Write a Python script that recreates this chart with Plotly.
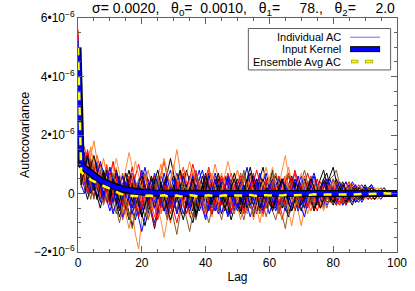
import plotly.graph_objects as go

SCALE = 1e-7  # values below are in units of 1e-7

kernel = [50, 9.8, 8.7, 7.7, 6.8, 6.0, 5.2, 4.5, 3.9, 3.4,
          2.9, 2.5, 2.1, 1.8, 1.5, 1.2, 1.0, 0.8, 0.6, 0.5,
          0.4, 0.3, 0.25, 0.2, 0.15, 0.1, 0.08, 0.06, 0.04, 0.03,
          0.02, 0.01, 0.01, 0, 0, 0, 0, 0, 0, 0] + [0.0] * 61

ensemble = [50, 7.4, 6.3, 5.4, 4.7, 4.1, 3.6, 3.2, 2.8, 2.3,
            1.8, 1.2, 0.6, 0.0, -0.4, -0.6, -0.7, -0.8, -0.9, -0.8,
            -1.0, -0.9, -0.7, -0.8, -1.1, -0.9, -0.8, -0.6, -0.9, -1.0,
            -0.8, -0.7, -0.9, -1.0, -0.8, -0.6, -0.7, -0.9, -1.0, -0.8,
            -0.7, -0.6, -0.8, -1.0, -0.9, -0.7, -0.6, -0.8, -0.9, -0.7,
            -0.6, -0.7, -0.8, -0.6, -0.5, -0.7, -0.8, -0.6, -0.5, -0.6,
            -0.7, -0.5, -0.4, -0.6, -0.7, -0.5, -0.4, -0.5, -0.6, -0.5,
            -0.4, -0.5, -0.6, -0.4, -0.3, -0.4, -0.5, -0.4, -0.3, -0.4,
            -0.5, -0.4, -0.3, -0.2, -0.3, -0.4, -0.3, -0.2, -0.3, -0.2,
            -0.1, -0.2, -0.1, 0.0, -0.1, 0.0, 0.1, 0.0, 0.0, 0.0, 0.0]

individual = [
    ("#ff0000", [52, 12, 9, 14, 10, 6, 8, 3, 5, 9, 4, -2, 1, 5, -3, -6, -1, 3, -2, -8, -4, 2, 5, 1, -3, 2, 6, 3, -2, -5, -1, 4, 7, 2, -3, -6, -2, 1, 5, 3, -1, -4, 0, 6, 4, -2, -5, -3, 2, 5, 1, -3, -7, -2, 3, 6, 2, -2, 1, 4, -1, -5, -3, 2, 4, 0, -4, -2, 3, 5, 1, -2, -4, 0, 3, 2, -3, -5, -1, 2, 4, 1, -2, -3, 1, 3, 0, -2, -1, 2, 1, -1, -2, 0, 1, 1, -1, -1, 0, 1, 0]),
    ("#0000ff", [49, 6, 3, 8, 2, -1, 4, 7, 1, -3, 2, 6, 0, -5, -2, 3, -1, -6, -9, -4, 1, -3, -7, -2, 4, 1, -4, -1, 5, 8, 3, -2, 1, 6, 2, -4, -8, -3, 2, -1, -5, -2, 4, 7, 3, -1, 2, 5, 0, -6, -3, 1, -2, -6, -4, 2, 5, 1, -3, 0, 4, 2, -3, -6, -1, 3, 6, 2, -2, -4, 0, 3, -1, -4, -2, 2, 4, 1, -3, -2, 2, 4, 1, -2, -4, -1, 2, 1, -2, 0, 2, 1, -1, -2, 0, 1, 0, -1, 0, 0, 0]),
    ("#000000", [50, 9, 12, 6, 11, 7, 2, 5, 0, 4, 7, 2, -4, -1, 3, -2, -7, -11, -6, -2, 3, 0, -4, 1, 5, 2, -3, -6, -1, 4, 6, 1, -3, 2, -2, -7, -10, -5, 0, 3, 7, 3, -2, 1, 5, 2, -4, -7, -2, 3, 0, -4, -1, 4, 7, 3, -2, -6, -3, 1, 5, 2, -3, -1, 4, 6, 1, -4, -2, 2, -1, -5, -2, 3, 1, -2, 2, 5, 7, 2, -2, -4, 0, 3, 1, -3, -1, 2, 0, -2, 1, 2, 0, -2, -1, 1, 0, -1, 1, 0, 0]),
    ("#ff7f27", [55, 14, 8, 11, 16, 9, 4, 7, 12, 6, 1, 5, 9, 3, -2, -8, -12, -6, -14, -19, -9, -3, 2, -4, 1, 6, 10, 4, -1, 3, 9, 15, 8, 2, -3, 1, 5, 0, -6, -3, 2, -4, -8, -2, 3, 7, 2, -4, 0, 5, 8, 3, -3, -7, -2, 4, 1, -5, -8, -3, 2, 6, 1, -4, 0, 5, 9, 4, -1, -6, -11, -5, 1, 6, 3, -2, 2, 4, -1, -3, 1, 3, -2, -4, 0, 2, -1, -3, 1, 2, 0, -2, -1, 1, 2, 0, -1, 0, 1, 0, 0]),
    ("#8b5a2b", [48, 4, 7, 2, -2, 5, 9, 3, -1, 4, 0, -6, -3, 2, 7, 1, -4, -1, 4, 2, -3, -8, -4, 1, -2, -6, -1, 5, 2, -4, -9, -14, -7, -2, 3, 0, -5, -9, -3, 1, 4, 0, -3, 2, 6, 3, -2, -6, -1, 3, -1, -5, -9, -4, 1, 5, 2, -3, -6, -2, 3, 7, 2, -3, -7, -12, -5, 0, 4, 1, -3, -1, 3, 6, 2, -2, -5, -1, 2, 5, 6, 8, 3, -1, -3, 0, 2, -1, -2, 1, 2, 0, -1, -2, 0, 1, 1, 0, -1, 0, 0]),
    ("#ff3a00", [53, 11, 16, 10, 5, 9, 13, 8, 2, -3, 1, 6, 2, -4, -9, -5, 0, 4, -2, -6, -1, 3, -2, -7, -3, 2, 7, 11, 5, 0, -4, 1, 5, 9, 4, -1, -5, -2, 3, 0, -6, -3, 2, -1, -4, 1, 6, 3, -2, -5, 0, 4, 7, 2, -3, -1, 3, 6, 1, -4, -2, 3, 1, -5, -9, -4, 1, 5, 2, -2, 3, 6, 2, -3, -6, -2, 1, 4, 0, -3, -1, 2, 4, 1, -2, -1, 2, 0, -2, -1, 1, 2, 0, -1, -1, 1, 0, -1, 0, 1, 0]),
    ("#0000ff", [51, 3, 0, 5, 9, 4, -1, 2, 6, 1, -4, -1, 3, -3, -8, -4, 1, -2, -5, 0, 5, 9, 4, -1, -5, -2, 3, 7, 2, -3, -1, 4, 1, -4, -7, -2, 2, -1, 5, 8, 3, -2, -5, -1, 3, 0, -4, -8, -4, 1, 5, 2, -2, 3, 6, 1, -4, -1, 4, 7, 2, -3, -6, -2, 1, -3, -7, -3, 2, 5, 1, -3, 0, 4, 7, 3, -2, -5, -2, 2, 5, 2, -1, -4, -2, 1, 4, 2, -1, -3, -1, 1, 3, 1, -1, -2, 0, 1, 0, 0, 0]),
    ("#000000", [47, 7, 2, -2, 3, 8, 5, 0, 4, 8, 3, -2, 2, 6, 1, -4, 0, 5, 2, -3, -7, -11, -6, -1, 4, 1, -3, 2, 6, 3, -2, -6, -1, 3, 8, 4, -1, -4, 1, 6, 2, -3, -7, -3, 1, -2, -6, -1, 4, 2, -3, -6, -1, 5, 2, -2, 1, 5, 9, 4, -1, -4, 0, 3, -1, -5, -8, -4, 1, 4, 0, -3, 1, 5, 2, -1, -4, -1, 3, 6, 9, 4, 0, -3, -1, 2, 0, -3, -2, 1, 3, 1, -1, -2, 0, 1, 2, 0, -1, 0, 0]),
    ("#ff8c40", [50, 10, 5, 1, 6, 12, 7, 2, -3, 1, 6, 10, 5, -1, 3, 8, 14, 9, 3, -2, 2, -3, -8, -4, 0, -5, -9, -15, -8, -2, 4, 1, -3, 2, 6, 11, 6, 1, -3, 0, 5, 2, -2, -6, -1, 3, 0, -5, -2, 4, 8, 4, -1, 2, 6, 1, -5, -10, -4, 1, -2, -6, -2, 3, 7, 13, 6, 1, -4, -1, 2, -2, -7, -3, 1, -1, -4, 0, 3, 1, -2, 1, 4, 2, -1, -3, 0, 2, 1, -1, -2, 0, 1, 0, -1, 0, 1, 0, 0, 0, 0]),
    ("#ff0000", [54, 8, 13, 7, 3, -1, 4, 9, 6, 1, -3, 2, 7, 3, -2, -6, -3, 1, 6, 10, 5, 1, -4, -1, 3, -3, -7, -2, 2, -1, -5, -2, 3, 7, 2, -3, 1, 5, 1, -4, -8, -3, 2, 5, 1, -4, -1, 3, 7, 3, -2, -5, -1, 4, 1, -4, -7, -2, 3, 5, 1, -3, 2, 6, 2, -3, -1, 4, 1, -5, -2, 3, 7, 3, -2, -4, 0, 3, 1, -2, 0, 3, 2, -1, -4, -2, 1, 3, 0, -2, -1, 1, 2, 0, -1, -1, 0, 1, 0, 0, 0]),
    ("#0000ff", [48, 13, 7, 3, 8, 4, 10, 6, 1, -2, -6, -2, 3, 0, -4, 1, 5, 2, -3, -7, -3, 2, -2, -6, -10, -5, 0, 4, 1, -3, 1, 5, 2, -2, 2, 6, 3, -2, -6, -3, 1, 4, 0, -4, -7, -3, 2, 5, 1, -3, -6, -2, 2, -1, -5, -2, 3, 7, 3, -1, -4, 0, 4, 1, -3, -6, -2, 1, -2, -6, -3, 1, 4, 0, -4, -1, 2, -1, -4, -2, 1, 3, 0, -2, 1, 3, 1, -2, -3, -1, 1, 2, 3, 1, -1, 0, 1, 0, -1, 0, 0]),
    ("#000000", [52, 5, 9, 4, 0, 3, -1, -5, 0, 3, -1, 3, 8, 4, 0, -5, -9, -4, 0, -3, -8, -4, 1, 5, 0, -4, -1, 3, 7, 12, 6, 1, -3, -1, 3, -2, -6, -2, 2, -1, 3, 7, 2, -3, 0, 4, 1, -4, -9, -5, 0, 3, -1, -5, -2, 2, 5, 1, -3, 0, 4, 8, 3, -2, -5, -1, 2, -2, -6, -2, 2, 5, 1, -3, -1, 2, 5, 8, 3, -1, -3, 0, 2, -1, -3, -1, 2, 1, -1, -2, 0, 1, -1, -2, 0, 1, 0, -1, 0, 0, 0]),
    ("#8b5a2b", [50, 16, 10, 6, 12, 8, 3, -2, 2, 7, 3, -3, -7, -2, 2, -3, -8, -12, -7, -1, 3, -1, -6, -3, 2, 6, 1, -5, -9, -4, 0, 5, 1, -4, -8, -13, -7, -2, 3, 0, -4, 1, 5, 2, -3, -7, -2, 2, -1, -5, -1, 4, 8, 3, -2, 2, -3, -7, -3, 2, -2, -6, -9, -4, 1, 4, 0, -4, -1, 3, -1, -4, 0, 3, 1, -3, -5, -1, 2, 0, -3, -1, 2, 0, -2, 1, 3, 1, -1, -2, 0, 1, 0, -1, 1, 2, 0, -1, 0, 0, 0]),
    ("#ff0000", [56, 3, 7, 12, 5, 1, 6, 10, 4, 0, 5, 1, -4, 1, 6, 2, -3, -7, -3, 2, 7, 3, -2, 2, 6, 1, -5, -2, 3, -2, -6, -10, -5, 0, -3, 2, 7, 3, -2, 1, 5, 9, 4, 0, -5, -2, 3, -1, -6, -3, 1, 5, 2, -3, -1, 4, 8, 4, -1, -5, -2, 2, -3, -7, -3, 2, -1, 3, 7, 2, -3, 0, 4, 1, -3, -6, -2, 3, 5, 1, -2, -4, -1, 2, 4, 1, -2, 0, 2, 1, -1, -2, 0, 1, 0, -1, 1, 1, 0, 0, 0]),
    ("#0000ff", [49, 9, 14, 8, 3, 7, 11, 5, 0, 3, -2, -7, -3, 2, 6, 2, -2, 1, -4, -9, -13, -8, -3, 1, -2, -7, -3, 2, 5, 0, -5, -2, 2, 6, 1, -3, 0, 4, 8, 3, -2, -6, -2, 2, -2, -7, -3, 1, 5, 1, -3, 0, 5, 9, 3, -2, -6, -2, 1, -3, -7, -3, 2, 5, 1, -3, 1, 5, 2, -2, -5, -8, -3, 1, 4, 1, -2, 2, 5, 2, -1, -3, 0, 2, 4, 1, -1, -3, -1, 1, 2, 0, -1, -1, 1, 0, -1, 0, 1, 0, 0]),
    ("#ff7f27", [51, 7, 3, 8, 13, 18, 11, 6, 1, 5, 9, 4, -1, 3, -2, -7, -3, 2, -2, -6, -2, 4, 8, 3, -2, 2, 7, 12, 7, 2, -3, -7, -3, 1, -3, -8, -4, 0, 4, 1, -3, 1, 6, 10, 5, 0, -4, -1, 3, 0, -5, -9, -4, 1, 4, 0, -3, 1, 5, 9, 4, -1, -5, -2, 2, -1, -6, -11, -5, 0, 4, 1, -3, 1, 5, 2, -2, -5, -1, 3, 1, -2, -4, -1, 2, 0, -2, 1, 2, 0, -1, 1, 0, -1, -2, 0, 1, 0, 0, 0, 0]),
    ("#000000", [49, 11, 6, 2, 7, 3, -2, 1, 6, 2, -3, 1, -3, -8, -4, 1, 5, 1, -4, -1, 4, 1, -3, -7, -12, -6, -1, 3, -1, -5, 0, 4, 8, 3, -1, 2, -3, -7, -2, 3, -1, -5, -1, 3, 7, 2, -3, 0, 4, 1, -4, -7, -2, 3, 0, -4, -1, 3, 0, -5, -2, 3, 6, 2, -3, -1, 3, 6, 2, -3, -6, -2, 1, -2, -6, -3, 1, 4, 1, -2, 2, 5, 2, -1, -3, -1, 1, 0, -2, 1, 2, 0, -1, 0, 1, 0, -1, 0, 1, 0, 0]),
    ("#ff0000", [53, 5, 10, 15, 9, 4, 8, 2, -3, 2, 6, 11, 6, 1, -4, -1, 4, 9, 4, -1, -5, -1, 3, 0, -5, -9, -4, 1, -3, -7, -2, 3, 0, -4, 1, 5, 10, 5, 1, -3, 1, 5, 1, -3, -6, -2, 3, 7, 3, -2, 2, -2, -6, -2, 3, 7, 2, -3, -1, 4, 1, -4, -1, 3, 0, -4, -2, 3, 8, 4, -1, -5, -2, 2, 0, -3, -1, 3, 1, -3, -1, 2, 0, -3, -1, 2, 3, 0, -2, -1, 1, 0, -2, 0, 1, 1, 0, -1, 0, 0, 0]),
    ("#8b5a2b", [50, 2, 6, 1, 5, 10, 6, 1, -4, 0, 4, 0, -5, -10, -5, -1, 3, -2, -6, -2, 3, 7, 2, -2, 1, 5, 1, -4, -8, -3, 2, -2, -6, -2, 2, -1, 4, 8, 3, -2, -6, -2, 2, -1, -5, -9, -4, 1, 4, 0, 3, 7, 2, -2, -5, -1, 3, 1, -4, -8, -3, 1, -2, -6, -2, 3, 6, 2, -2, 1, 4, 8, 3, -1, -4, -1, 2, -2, -5, -1, 2, 4, 1, -1, 2, 4, 1, -1, -2, 0, 1, -1, -2, 0, 1, 0, -1, 0, 0, 0, 0]),
    ("#0000ff", [52, 10, 4, 0, 5, 1, 6, 11, 7, 2, -2, 2, 7, 3, -2, 2, -3, -7, -2, 3, 0, -4, 1, 5, 1, -3, 1, -3, -7, -3, 2, 7, 3, -1, -5, -2, 2, 6, 2, -3, 1, 6, 3, -2, 1, 5, 2, -3, -7, -2, 3, 0, -4, -1, 3, 6, 2, -3, -6, -2, 1, -2, -5, -1, 4, 1, -3, -6, -2, 3, 6, 2, -2, 1, 4, 1, -3, -1, 3, 5, 1, -2, -3, 0, 2, -1, -3, -1, 2, 3, 1, -1, 0, 1, 0, -1, 0, 1, 0, 0, 0]),
    ("#ff4500", [50, 13, 6, 10, 4, 8, 3, -1, 4, 10, 5, 0, 4, -2, -7, -3, 2, 6, 1, -4, 2, 6, 1, -4, -8, -3, 1, -2, -6, -10, -4, 1, 6, 2, -3, 1, 4, 0, -5, -1, 4, 8, 4, -1, -4, 0, 5, 2, -3, -7, -2, 2, 6, 2, -3, -6, -1, 3, -1, -4, 0, 5, 2, -3, 1, 6, 3, -2, -5, -2, 3, 1, -3, -6, -2, 2, 4, 1, -2, 1, 3, 0, -3, -1, 2, 4, 1, -2, -1, 1, 0, -1, 1, 2, 0, -1, 0, 1, 0, 0, 0]),
    ("#0000ff", [50, 8, 11, 5, 1, 6, 2, -3, 3, 7, 2, -3, 1, 6, 3, -2, 2, 7, 3, -2, -6, -2, 3, -1, -5, -1, 4, 0, -4, 1, 5, 2, -3, -7, -3, 2, 6, 2, -2, -5, -1, 3, -2, -6, -2, 2, 6, 3, -1, -4, 1, 4, 0, -4, -8, -4, 0, 4, 1, -3, 2, 5, 1, -4, -1, 3, 0, -4, 2, 6, 2, -3, -1, 3, 6, 2, -2, -4, -1, 3, 0, -3, -1, 2, 0, -2, 1, 3, 0, -2, -1, 1, 0, -1, 1, 0, -1, 0, 0, 0, 0]),
    ("#000000", [51, 14, 9, 4, 9, 13, 8, 3, 7, 2, -2, 3, -1, -6, -2, 4, 8, 3, -1, 3, 6, 2, -3, 0, 4, 8, 3, -1, -5, -9, -5, 0, 3, -1, -4, 1, -3, -8, -4, 0, 4, 0, -4, 1, 5, 1, -3, -1, 3, 7, 3, -2, -5, 0, -4, -8, -3, 2, 5, 1, -3, -6, -2, 2, 5, 1, -3, 1, 4, 0, -4, -1, 2, -2, -5, -2, 2, 5, 2, -2, -4, -1, 1, 3, 1, -2, -4, -1, 2, 1, -1, 0, 2, 1, 0, -1, -1, 0, 0, 0, 0]),
    ("#ff9040", [53, 9, 4, 9, 15, 10, 5, 9, 4, -1, 3, 8, 12, 7, 2, -3, 1, 5, 11, 6, 1, -3, 1, 6, 2, -2, -7, -4, 0, 5, 10, 5, 0, -4, 0, 4, 8, 3, -1, -6, -2, 3, 7, 2, -3, 1, 6, 11, 6, 1, -3, 1, 5, 2, -4, -9, -5, 0, 4, 1, 5, 9, 3, -2, 2, 6, 1, -3, 0, 4, 7, 3, -2, 1, 4, 0, -3, -6, -2, 2, 4, 1, -2, 1, 3, 0, -2, -1, 1, 2, 1, -1, 0, 1, 0, -1, 1, 0, 0, 0, 0]),
    ("#ff0000", [49, 10, 5, 0, 4, 9, 4, 0, 5, 1, -4, 0, 5, 1, -3, 2, 6, 1, -4, -8, -3, 2, -2, -7, -11, -6, -1, 3, -1, -5, -1, 4, 1, -3, -7, -2, 3, 7, 2, -2, 1, -3, -7, -2, 2, 6, 2, -3, -6, -2, 3, 6, 2, -2, 1, 5, 1, -4, -7, -3, 1, 4, 0, -4, -1, 4, 7, 3, -2, 0, 3, -1, -5, -2, 2, 5, 1, -3, 0, 3, 1, -2, -4, -1, 2, 0, -2, 1, 3, 1, -1, -2, 0, 1, 0, -1, 0, 1, 0, 0, 0]),
    ("#8b5a2b", [52, 7, 12, 8, 3, -2, 3, 8, 3, -2, 2, 7, 2, -3, 1, -3, -8, -4, 1, 5, 1, -4, -9, -5, 0, 4, 0, -5, -1, 3, -2, -6, -1, 4, 1, -3, 2, 6, 2, -2, -6, -10, -5, 0, 3, -1, -5, -1, 4, 1, -2, 2, 6, 1, -3, -7, -2, 2, -1, -5, -1, 3, 7, 3, -2, -5, -1, 2, -1, -4, 0, 4, 1, -3, -1, 3, 0, -4, -2, 2, 5, 2, -1, -3, 0, 2, 1, -1, -3, -1, 1, 2, 0, -1, 0, 1, 0, -1, 0, 0, 0]),
    ("#0000ff", [53, 15, 9, 13, 7, 2, 7, 3, -2, 4, 9, 4, -1, -5, -1, 4, 0, -5, -1, 4, 8, 3, -2, 2, 7, 3, -2, -6, -2, 2, -2, -7, -3, 1, -1, -5, -1, 3, -1, -5, -9, -4, 1, 5, 1, -3, 1, 6, 2, -2, -5, -1, 3, 0, -4, -1, 4, 0, -5, -2, 3, 0, -4, 1, 5, 2, -2, 1, 5, 2, -2, -5, -1, 3, 0, -3, 1, 4, 1, -2, -1, 2, 4, 1, -2, -1, 1, -1, -2, 0, 2, 1, -1, 0, 1, 0, -1, 0, 0, 0, 0]),
    ("#000000", [48, 3, 8, 13, 7, 2, -2, 3, 8, 4, 0, 5, 1, -3, 2, 7, 2, -3, 1, -4, -8, -4, 1, 6, 2, -2, 3, -1, -5, -1, 3, -1, -5, -9, -4, 1, 5, 1, -3, 2, 6, 2, -3, -1, 3, -1, -5, -2, 2, 5, 1, -3, 1, 5, 9, 4, -1, -5, -2, 2, -1, -5, -2, 2, 5, 1, -3, -6, -2, 3, 1, -2, 2, 5, 2, -2, -5, -2, 1, -1, -3, 0, 2, 4, 1, -2, 0, 2, 0, -2, 0, 1, -1, -1, 0, 1, 0, -1, 0, 0, 0]),
]

x_ticks = [0, 20, 40, 60, 80, 100]
y_tickvals = [-2e-6, 0, 2e-6, 4e-6, 6e-6]
y_ticktext = ["\u22122\u202210<sup>\u22126</sup>", "0", "2\u202210<sup>\u22126</sup>",
              "4\u202210<sup>\u22126</sup>", "6\u202210<sup>\u22126</sup>"]

NB = "\u00a0"
title_text = ("\u03c3= 0.0020," + NB * 3 + "\u03b8<sub>0</sub>=" + NB * 2 + "0.0010," + NB * 3 +
              "\u03b8<sub>1</sub>=" + NB * 5 + "78.," + NB * 3 + "\u03b8<sub>2</sub>=" + NB * 5 + "2.0")

FONT = "Liberation Sans, Arial, Helvetica, sans-serif"
AX = "#606060"

fig = go.Figure()
for color, vals in individual:
    fig.add_trace(go.Scatter(x=list(range(len(vals))), y=[v * SCALE for v in vals],
                             mode="lines", line=dict(color=color, width=1),
                             showlegend=False, hoverinfo="skip"))

ky = [v * SCALE for v in kernel]
fig.add_trace(go.Scatter(x=list(range(len(kernel))), y=ky, mode="lines",
                         line=dict(color="black", width=7), showlegend=False))
fig.add_trace(go.Scatter(x=list(range(len(kernel))), y=ky, mode="lines",
                         line=dict(color="#0000ff", width=4.5), showlegend=False))
ey = [v * SCALE for v in ensemble]
fig.add_trace(go.Scatter(x=list(range(len(ensemble))), y=ey, mode="lines",
                         line=dict(color="#ffff00", width=2.5, dash="8px,7px"),
                         showlegend=False))

axis_common = dict(showline=True, linecolor=AX, linewidth=1, mirror="allticks",
                   ticks="inside", ticklen=6, tickcolor=AX, tickwidth=1,
                   showgrid=False, zeroline=False, automargin=False,
                   tickfont=dict(family=FONT, size=12, color="black"))

fig.update_xaxes(range=[0, 100], tickvals=x_ticks,
                 minor=dict(dtick=5, ticks="inside", ticklen=3, tickcolor=AX, showgrid=False),
                 title=dict(text="Lag", font=dict(family=FONT, size=12, color="black"), standoff=3),
                 **axis_common)
fig.update_yaxes(range=[-2e-6, 6e-6], tickvals=y_tickvals, ticktext=y_ticktext,
                 minor=dict(dtick=0.5e-6, ticks="inside", ticklen=3, tickcolor=AX, showgrid=False),
                 title=dict(text="Autocovariance", font=dict(family=FONT, size=12.5, color="black"), standoff=1),
                 **axis_common)

# legend drawn as box with right-aligned labels and line samples on the right
LX0, LX1, LY0, LY1 = 0.534, 0.980, 0.778, 0.955
shapes = [dict(type="rect", xref="paper", yref="paper", x0=LX0, x1=LX1, y0=LY0, y1=LY1,
               line=dict(color=AX, width=1), fillcolor="white", layer="above")]
rows = [("Individual AC", 0.918), ("Input Kernel", 0.867), ("Ensemble Avg AC", 0.814)]
annotations = []
for label, yy in rows:
    annotations.append(dict(text=label, xref="paper", yref="paper", x=0.832, y=yy,
                            xanchor="right", yanchor="middle", showarrow=False,
                            font=dict(family=FONT, size=11, color="black")))
shapes.append(dict(type="line", xref="paper", yref="paper", x0=0.853, x1=0.947, y0=0.918, y1=0.918,
                   line=dict(color="#9955ff", width=1), layer="above"))
shapes.append(dict(type="line", xref="paper", yref="paper", x0=0.853, x1=0.947, y0=0.867, y1=0.867,
                   line=dict(color="black", width=6), layer="above"))
shapes.append(dict(type="line", xref="paper", yref="paper", x0=0.855, x1=0.945, y0=0.867, y1=0.867,
                   line=dict(color="#0000ff", width=4), layer="above"))
for dx0, dx1 in [(0.856, 0.879), (0.900, 0.925)]:
    shapes.append(dict(type="line", xref="paper", yref="paper", x0=dx0, x1=dx1, y0=0.814, y1=0.814,
                       line=dict(color="#9a9a00", width=3.5), layer="above"))
    shapes.append(dict(type="line", xref="paper", yref="paper", x0=dx0 + 0.002, x1=dx1 - 0.002,
                       y0=0.814, y1=0.814, line=dict(color="#ffff00", width=2), layer="above"))

annotations.append(dict(text=title_text, xref="paper", yref="paper", x=1.0, y=1.0385,
                        xanchor="right", yanchor="middle", showarrow=False,
                        font=dict(family=FONT, size=14, color="black")))

fig.update_layout(width=415, height=291, margin=dict(l=78, r=18, t=18, b=39),
                  paper_bgcolor="white", plot_bgcolor="white",
                  shapes=shapes, annotations=annotations, showlegend=False)

fig.write_html("out.html", config={"displayModeBar": False},
               post_script="document.body.style.margin='0px';")
